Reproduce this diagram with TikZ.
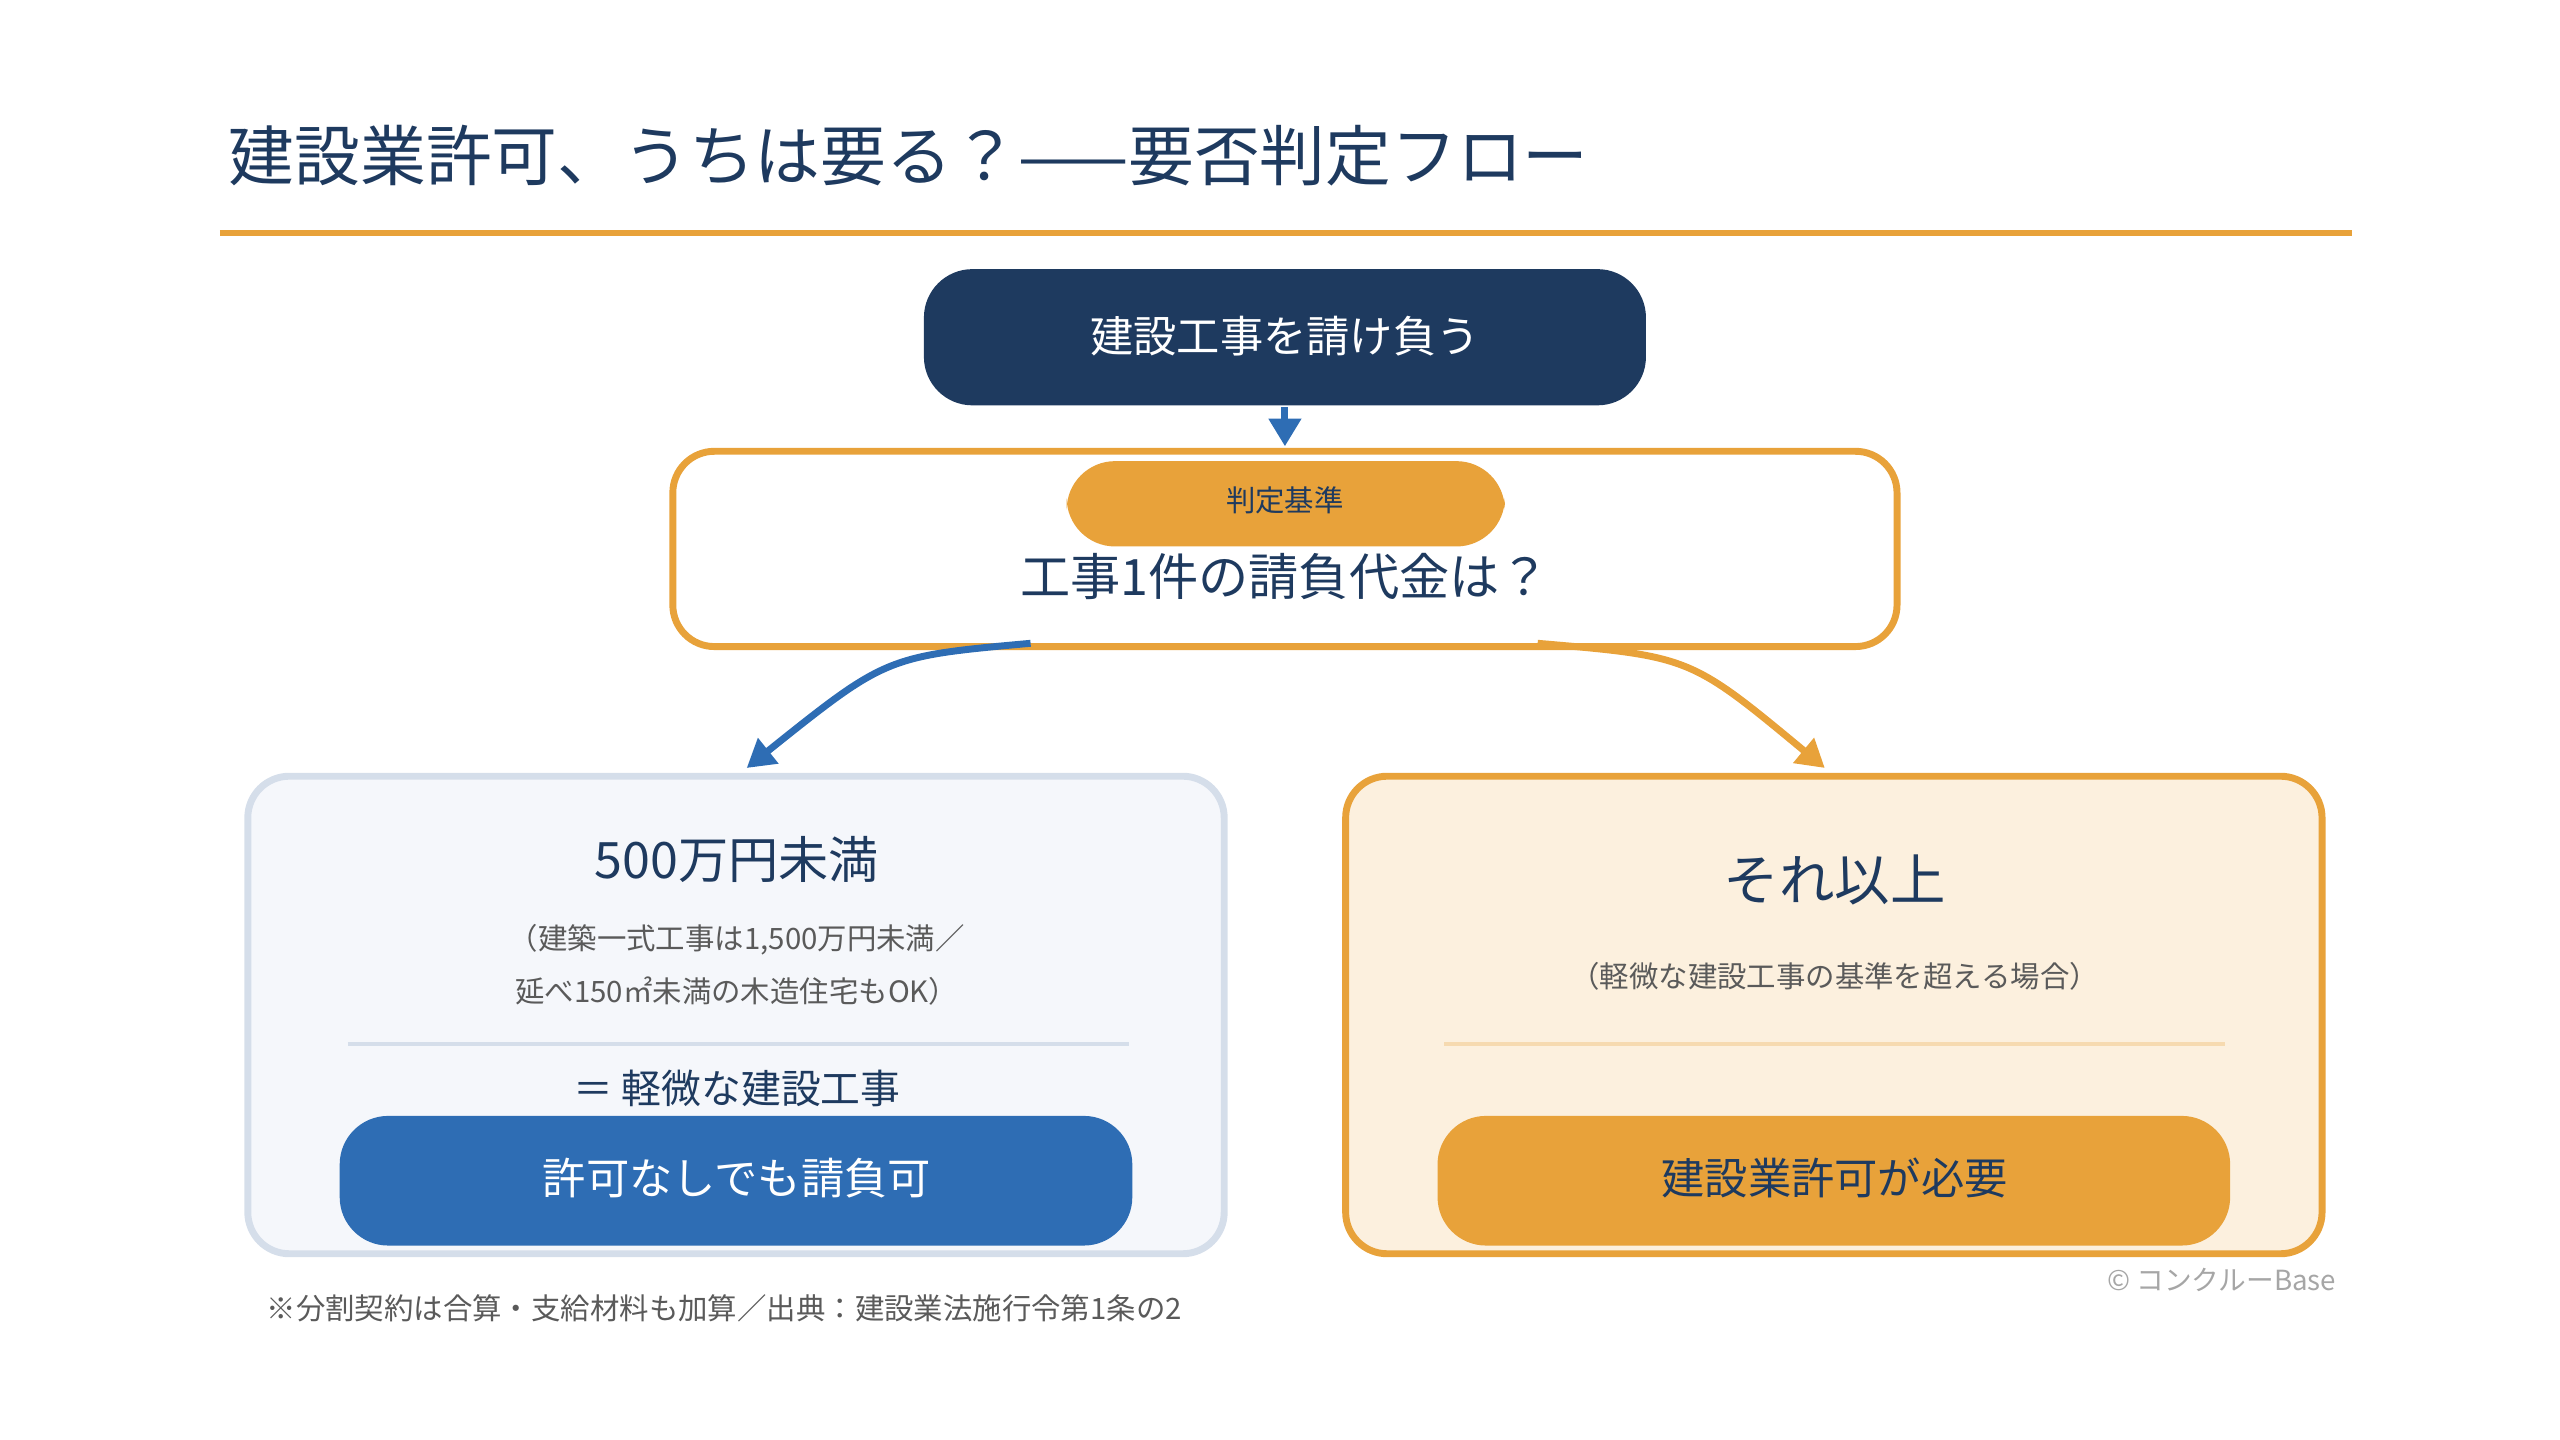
\documentclass[tikz,border=0pt]{standalone}
\usepackage{fontspec}
\setmainfont{Noto Sans CJK JP}
\usetikzlibrary{arrows.meta}
\definecolor{navy}{HTML}{1E3A5F}
\definecolor{accent}{HTML}{E8A23A}
\definecolor{okblue}{HTML}{2E6DB4}
\definecolor{paleblue}{HTML}{F5F7FB}
\definecolor{edgeblue}{HTML}{D5DEEA}
\definecolor{paleorange}{HTML}{FCF0DE}
\definecolor{noteGray}{HTML}{5A5A5A}
\tikzset{
  card/.style={rounded corners=12pt, line width=2pt},
  pill/.style={rounded corners=14pt},
  flow/.style={-{Triangle[length=8pt,width=9pt]}, line width=2pt},
}
\begin{document}
\begin{tikzpicture}[x=0.016667cm, y=-0.016667cm]
\useasboundingbox (0,0) rectangle (1560,877.5);

% Title and rule
\node[anchor=west, text=navy, font=\fontsize{19}{22}\selectfont] (title) at (132,95) {建設業許可、うちは要る？——要否判定フロー};
\draw[accent, line width=2pt] (134,142) -- (1433,142);

% Start box
\fill[navy, pill] (563,164) rectangle (1003,247);
\node[text=white, font=\fontsize{12.5}{15}\selectfont] (start) at (783,205) {建設工事を請け負う};

% Criteria box
\draw[accent, fill=white, card] (410,275) rectangle (1156,394);
\fill[accent, pill] (650,281) rectangle (917,333);
\node[text=navy, font=\fontsize{8.5}{10}\selectfont] (tag) at (783,305) {判定基準};
\node[text=navy, font=\fontsize{14.5}{17}\selectfont] (ask) at (783,351) {工事1件の請負代金は？};
\coordinate (critTop) at (783,272);
\coordinate (critL) at (628,392);
\coordinate (critR) at (937,392);

% Left card
\draw[edgeblue, fill=paleblue, card] (151,473) rectangle (746,764);
\node[text=navy, font=\fontsize{14.5}{17}\selectfont] (low) at (449,524) {500万円未満};
\node[text=noteGray, align=center, font=\fontsize{8.5}{15.5}\selectfont] (lowNote) at (449,588)
  {（建築一式工事は1,500万円未満／\\延べ150㎡未満の木造住宅もOK）};
\draw[edgeblue, line width=1.2pt] (212,636) -- (688,636);
\node[text=navy, font=\fontsize{11.5}{14}\selectfont] (minor) at (449,663) {＝ 軽微な建設工事};
\fill[okblue, pill] (207,680) rectangle (690,759);
\node[text=white, font=\fontsize{12.5}{15}\selectfont] (noPermit) at (449,718) {許可なしでも請負可};
\coordinate (lowIn) at (455,468);

% Right card
\draw[accent, fill=paleorange, card] (820,473) rectangle (1415,764);
\node[text=navy, font=\fontsize{16}{19}\selectfont] (high) at (1118,536) {それ以上};
\node[text=noteGray, font=\fontsize{8.5}{10}\selectfont] (highNote) at (1118,595) {（軽微な建設工事の基準を超える場合）};
\draw[accent!40, line width=1.2pt] (880,636) -- (1356,636);
\fill[accent, pill] (876,680) rectangle (1359,759);
\node[text=navy, font=\fontsize{12.5}{15}\selectfont] (permit) at (1118,718) {建設業許可が必要};
\coordinate (highIn) at (1112,468);

% Connectors
\draw[flow, okblue] (start.south |- 0,248) -- (critTop);
\draw[flow, okblue] (critL) .. controls (540,400) .. (lowIn);
\draw[flow, accent] (critR) .. controls (1030,400) .. (highIn);

% Footnotes
\node[anchor=west, text=noteGray, font=\fontsize{8.5}{10}\selectfont] (foot) at (155,797) {※分割契約は合算・支給材料も加算／出典：建設業法施行令第1条の2};
\node[anchor=east, text=gray!70, font=\fontsize{8}{10}\selectfont] (credit) at (1431,780) {© コンクルーBase};

\end{tikzpicture}
\end{document}
